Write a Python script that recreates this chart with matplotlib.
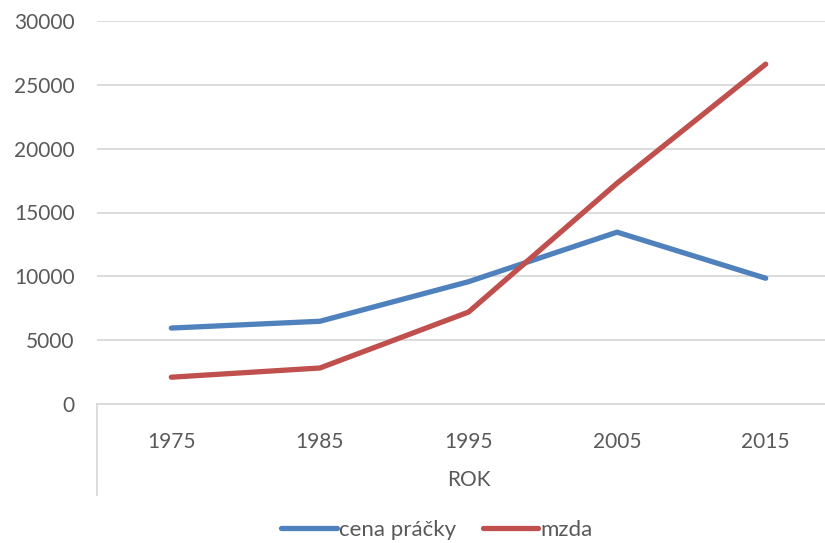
import matplotlib
matplotlib.use("Agg")
import matplotlib.pyplot as plt
from matplotlib.lines import Line2D

# data
years = ["1975", "1985", "1995", "2005", "2015"]
cena_pracky = [5950, 6480, 9580, 13460, 9850]
mzda = [2100, 2820, 7200, 17300, 26620]
y_ticks = [0, 5000, 10000, 15000, 20000, 25000, 30000]

blue = "#4F81BD"
red = "#C0504D"
grey_text = "#595959"
grid_col = "#D9D9D9"

plt.rcParams["font.family"] = ["Lato", "DejaVu Sans"]

fig = plt.figure(figsize=(8.25, 5.43), dpi=100)
ax = fig.add_axes([97 / 825, 139 / 543, (840 - 97) / 825, (404 - 21) / 543])

x = list(range(len(years)))
ax.plot(x, cena_pracky, color=blue, lw=3.8, solid_capstyle="round", solid_joinstyle="round", label="cena práčky")
ax.plot(x, mzda, color=red, lw=3.8, solid_capstyle="round", solid_joinstyle="round", label="mzda")

ax.set_xlim(-0.5, len(years) - 0.5)
ax.set_ylim(0, 30000)
ax.set_yticks(y_ticks)
ax.set_yticklabels([str(v) for v in y_ticks])
ax.set_xticks(x)
ax.set_xticklabels(years)
ax.grid(axis="y", color=grid_col, lw=1.3)
ax.set_axisbelow(True)
for s in ["top", "right", "left"]:
    ax.spines[s].set_visible(False)
ax.spines["bottom"].set_color(grid_col)
ax.spines["bottom"].set_linewidth(1.3)
ax.tick_params(axis="both", length=0, labelsize=15, colors=grey_text)
ax.tick_params(axis="y", pad=16)
ax.tick_params(axis="x", pad=20)

ax.set_xlabel("ROK", fontsize=15, color=grey_text, labelpad=13)

# category boundary line below the axis (multi-level axis look)
ax.add_line(Line2D([0, 0], [0, -91 / 383], transform=ax.transAxes,
                   color=grid_col, lw=1.3, clip_on=False))

handles, labels = ax.get_legend_handles_labels()
fig.legend(handles, labels, loc="center", bbox_to_anchor=(437 / 825, 1 - 530 / 543),
           ncol=2, frameon=False, fontsize=16, labelcolor=grey_text,
           handlelength=2.5, handletextpad=0.1, columnspacing=1.2)

fig.savefig("out.png", dpi=100)
